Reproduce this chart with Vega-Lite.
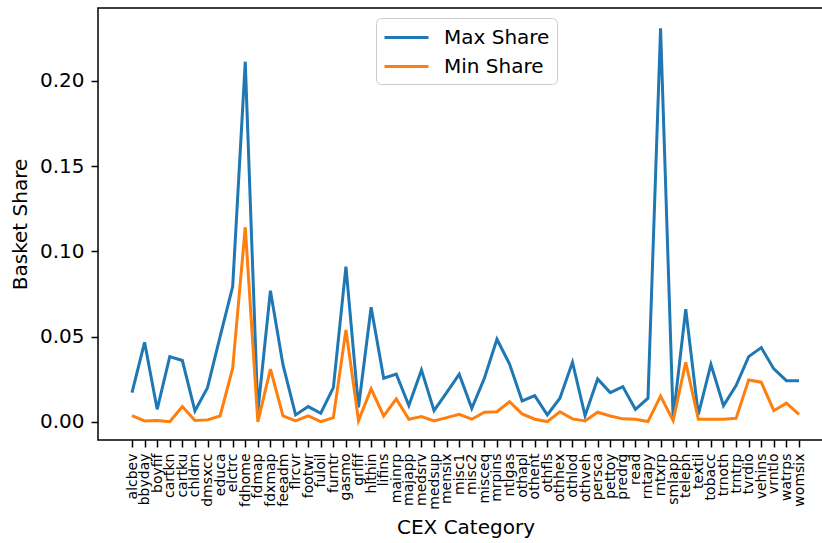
{
  "$schema": "https://vega.github.io/schema/vega-lite/v6.json",
  "width": 734,
  "height": 432,
  "autosize": {"type": "none"},
  "padding": {"left": 98, "top": 8, "right": 0, "bottom": 103},
  "background": "white",
  "config": {
    "font": "DejaVu Sans",
    "view": {"stroke": "black", "strokeWidth": 1.5},
    "axis": {"grid": false, "domain": false, "tickColor": "black", "tickSize": 7, "tickWidth": 1.5, "labelColor": "black", "titleColor": "black", "titleFontWeight": "normal", "labelFont": "DejaVu Sans", "titleFont": "DejaVu Sans"}
  },
  "data": {"values": [
    {"cat":"alcbev","series":"Max Share","v":0.0172},{"cat":"alcbev","series":"Min Share","v":0.0037},
    {"cat":"bbyday","series":"Max Share","v":0.0467},{"cat":"bbyday","series":"Min Share","v":0.0006},
    {"cat":"boyfif","series":"Max Share","v":0.0074},{"cat":"boyfif","series":"Min Share","v":0.0008},
    {"cat":"cartkn","series":"Max Share","v":0.0383},{"cat":"cartkn","series":"Min Share","v":0.0001},
    {"cat":"cartku","series":"Max Share","v":0.0360},{"cat":"cartku","series":"Min Share","v":0.0090},
    {"cat":"chldrn","series":"Max Share","v":0.0065},{"cat":"chldrn","series":"Min Share","v":0.0008},
    {"cat":"dmsxcc","series":"Max Share","v":0.0201},{"cat":"dmsxcc","series":"Min Share","v":0.0012},
    {"cat":"educa","series":"Max Share","v":0.0500},{"cat":"educa","series":"Min Share","v":0.0035},
    {"cat":"elctrc","series":"Max Share","v":0.0794},{"cat":"elctrc","series":"Min Share","v":0.0315},
    {"cat":"fdhome","series":"Max Share","v":0.2113},{"cat":"fdhome","series":"Min Share","v":0.1142},
    {"cat":"fdmap","series":"Max Share","v":0.0061},{"cat":"fdmap","series":"Min Share","v":0.0000},
    {"cat":"fdxmap","series":"Max Share","v":0.0770},{"cat":"fdxmap","series":"Min Share","v":0.0310},
    {"cat":"feeadm","series":"Max Share","v":0.0334},{"cat":"feeadm","series":"Min Share","v":0.0035},
    {"cat":"flrcvr","series":"Max Share","v":0.0041},{"cat":"flrcvr","series":"Min Share","v":0.0006},
    {"cat":"footwr","series":"Max Share","v":0.0090},{"cat":"footwr","series":"Min Share","v":0.0035},
    {"cat":"fuloil","series":"Max Share","v":0.0051},{"cat":"fuloil","series":"Min Share","v":0.0002},
    {"cat":"furntr","series":"Max Share","v":0.0201},{"cat":"furntr","series":"Min Share","v":0.0025},
    {"cat":"gasmo","series":"Max Share","v":0.0911},{"cat":"gasmo","series":"Min Share","v":0.0540},
    {"cat":"grlfif","series":"Max Share","v":0.0086},{"cat":"grlfif","series":"Min Share","v":0.0008},
    {"cat":"hlthin","series":"Max Share","v":0.0673},{"cat":"hlthin","series":"Min Share","v":0.0194},
    {"cat":"lifins","series":"Max Share","v":0.0256},{"cat":"lifins","series":"Min Share","v":0.0035},
    {"cat":"mainrp","series":"Max Share","v":0.0280},{"cat":"mainrp","series":"Min Share","v":0.0135},
    {"cat":"majapp","series":"Max Share","v":0.0096},{"cat":"majapp","series":"Min Share","v":0.0016},
    {"cat":"medsrv","series":"Max Share","v":0.0305},{"cat":"medsrv","series":"Min Share","v":0.0031},
    {"cat":"medsup","series":"Max Share","v":0.0066},{"cat":"medsup","series":"Min Share","v":0.0006},
    {"cat":"mensix","series":"Max Share","v":0.0172},{"cat":"mensix","series":"Min Share","v":0.0025},
    {"cat":"misc1","series":"Max Share","v":0.0280},{"cat":"misc1","series":"Min Share","v":0.0045},
    {"cat":"misc2","series":"Max Share","v":0.0080},{"cat":"misc2","series":"Min Share","v":0.0016},
    {"cat":"misceq","series":"Max Share","v":0.0256},{"cat":"misceq","series":"Min Share","v":0.0057},
    {"cat":"mrpins","series":"Max Share","v":0.0485},{"cat":"mrpins","series":"Min Share","v":0.0060},
    {"cat":"ntlgas","series":"Max Share","v":0.0340},{"cat":"ntlgas","series":"Min Share","v":0.0119},
    {"cat":"othapl","series":"Max Share","v":0.0123},{"cat":"othapl","series":"Min Share","v":0.0047},
    {"cat":"othent","series":"Max Share","v":0.0154},{"cat":"othent","series":"Min Share","v":0.0016},
    {"cat":"othfls","series":"Max Share","v":0.0041},{"cat":"othfls","series":"Min Share","v":0.0002},
    {"cat":"othhex","series":"Max Share","v":0.0139},{"cat":"othhex","series":"Min Share","v":0.0060},
    {"cat":"othlod","series":"Max Share","v":0.0350},{"cat":"othlod","series":"Min Share","v":0.0018},
    {"cat":"othveh","series":"Max Share","v":0.0037},{"cat":"othveh","series":"Min Share","v":0.0006},
    {"cat":"persca","series":"Max Share","v":0.0252},{"cat":"persca","series":"Min Share","v":0.0057},
    {"cat":"pettoy","series":"Max Share","v":0.0172},{"cat":"pettoy","series":"Min Share","v":0.0035},
    {"cat":"predrg","series":"Max Share","v":0.0207},{"cat":"predrg","series":"Min Share","v":0.0018},
    {"cat":"read","series":"Max Share","v":0.0074},{"cat":"read","series":"Min Share","v":0.0016},
    {"cat":"rntapy","series":"Max Share","v":0.0139},{"cat":"rntapy","series":"Min Share","v":0.0002},
    {"cat":"rntxrp","series":"Max Share","v":0.2309},{"cat":"rntxrp","series":"Min Share","v":0.0152},
    {"cat":"smlapp","series":"Max Share","v":0.0021},{"cat":"smlapp","series":"Min Share","v":0.0008},
    {"cat":"teleph","series":"Max Share","v":0.0661},{"cat":"teleph","series":"Min Share","v":0.0350},
    {"cat":"textil","series":"Max Share","v":0.0043},{"cat":"textil","series":"Min Share","v":0.0016},
    {"cat":"tobacc","series":"Max Share","v":0.0338},{"cat":"tobacc","series":"Min Share","v":0.0016},
    {"cat":"trnoth","series":"Max Share","v":0.0096},{"cat":"trnoth","series":"Min Share","v":0.0016},
    {"cat":"trntrp","series":"Max Share","v":0.0213},{"cat":"trntrp","series":"Min Share","v":0.0021},
    {"cat":"tvrdio","series":"Max Share","v":0.0383},{"cat":"tvrdio","series":"Min Share","v":0.0246},
    {"cat":"vehins","series":"Max Share","v":0.0436},{"cat":"vehins","series":"Min Share","v":0.0233},
    {"cat":"vrntlo","series":"Max Share","v":0.0311},{"cat":"vrntlo","series":"Min Share","v":0.0066},
    {"cat":"watrps","series":"Max Share","v":0.0242},{"cat":"watrps","series":"Min Share","v":0.0110},
    {"cat":"womsix","series":"Max Share","v":0.0242},{"cat":"womsix","series":"Min Share","v":0.0045}
  ]},
  "mark": {"type": "line", "strokeWidth": 3},
  "encoding": {
    "x": {"field": "cat", "type": "nominal", "sort": null,
      "scale": {"type": "point", "range": [34, 701], "padding": 0},
      "axis": {"title": "CEX Category", "labelAngle": -90, "labelFontSize": 14, "labelPadding": 6, "titleFontSize": 20, "titlePadding": 8}},
    "y": {"field": "v", "type": "quantitative",
      "scale": {"domain": [-0.0106, 0.2428], "nice": false, "zero": false},
      "axis": {"title": "Basket Share", "values": [0, 0.05, 0.1, 0.15, 0.2], "format": ".2f", "labelFontSize": 20, "labelPadding": 7, "titleFontSize": 20, "titlePadding": 9}},
    "color": {"field": "series", "type": "nominal",
      "scale": {"domain": ["Max Share", "Min Share"], "range": ["#1f77b4", "#ff7f0e"]},
      "legend": {"title": null, "orient": "none", "legendX": 278, "legendY": 10, "symbolType": "M-1,0H3", "symbolSize": 484, "symbolStrokeWidth": 3, "labelFontSize": 20, "labelOffset": 36, "rowPadding": 6, "padding": 7, "fillColor": "white", "strokeColor": "#cccccc", "cornerRadius": 5, "labelColor": "black"}}
  }
}
